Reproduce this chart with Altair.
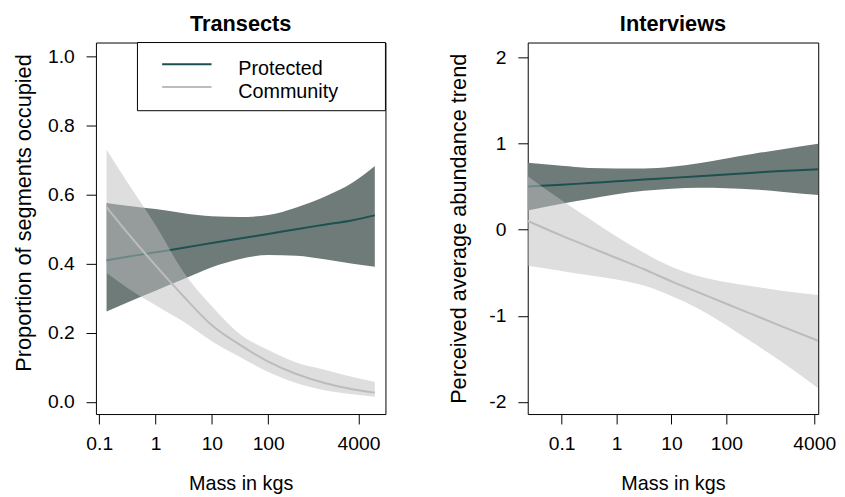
import altair as alt
import pandas as pd

# ---------------- data ----------------
# Transects panel
mass_T = [0.135, 0.316, 1, 3.16, 10, 31.6, 100, 316, 1000, 3160, 7800]
prot_fit_T = [0.41, 0.42, 0.433, 0.446, 0.46, 0.473, 0.486, 0.50, 0.513, 0.526, 0.54]
prot_lo_T = [0.262, 0.288, 0.322, 0.356, 0.39, 0.414, 0.425, 0.423, 0.413, 0.40, 0.391]
prot_hi_T = [0.576, 0.568, 0.558, 0.546, 0.537, 0.535, 0.541, 0.563, 0.594, 0.635, 0.683]
comm_fit_T = [0.564, 0.49, 0.395, 0.305, 0.222, 0.165, 0.117, 0.081, 0.055, 0.037, 0.027]
comm_lo_T = [0.373, 0.33, 0.28, 0.232, 0.176, 0.13, 0.087, 0.055, 0.034, 0.022, 0.015]
comm_hi_T = [0.73, 0.636, 0.512, 0.375, 0.277, 0.196, 0.15, 0.114, 0.093, 0.072, 0.058]

# Interviews panel
mass_I = [0.0242, 0.1, 0.316, 1, 3.16, 10, 31.6, 100, 316, 1000, 4720]
prot_fit_I = [0.50, 0.52, 0.54, 0.56, 0.58, 0.60, 0.62, 0.64, 0.66, 0.68, 0.70]
prot_lo_I = [0.22, 0.30, 0.355, 0.41, 0.45, 0.475, 0.485, 0.48, 0.465, 0.44, 0.40]
prot_hi_I = [0.775, 0.74, 0.715, 0.71, 0.71, 0.73, 0.77, 0.825, 0.88, 0.93, 0.995]
comm_fit_I = [0.10, -0.07, -0.20, -0.33, -0.46, -0.60, -0.73, -0.86, -0.99, -1.12, -1.29]
comm_lo_I = [-0.42, -0.48, -0.53, -0.58, -0.65, -0.77, -0.92, -1.11, -1.32, -1.53, -1.84]
comm_hi_I = [0.62, 0.34, 0.13, -0.08, -0.27, -0.43, -0.54, -0.61, -0.66, -0.71, -0.76]

x_ticks = [0.1, 1, 10, 100, 4000]
y_ticks_T = [0.0, 0.2, 0.4, 0.6, 0.8, 1.0]
y_ticks_I = [-2, -1, 0, 1, 2]

legend_labels = ["Protected", "Community"]

# ---------------- style ----------------
FONT = "Liberation Sans"
PROT_BAND = "#6f7b79"
PROT_LINE = "#1d5151"
COMM_BAND = "#bebebe"
COMM_LINE = "#bcbcbc"
legend_colors = [PROT_LINE, COMM_LINE]

W_T, W_I, H = 293, 294, 376


def frame(mass, fit, lo, hi):
    return pd.DataFrame({"mass": mass, "fit": fit, "lo": lo, "hi": hi})


def make_panel(title, width, mass, pf, pl, ph, cf, cl, ch, xdom, ydom, yticks,
               ylabel_expr, ytitle, ytitle_x, ytitle_y, legend=False):
    xaxis = alt.Axis(values=x_ticks, format="~g", title="Mass in kgs",
                     titleFont=FONT, titleFontSize=20, titleFontWeight="normal",
                     titleColor="black", titleX=width / 2, titleY=76,
                     titleAlign="center", titleBaseline="alphabetic",
                     labelFont=FONT, labelFontSize=19.5, labelColor="black",
                     labelPadding=11, tickSize=10, tickColor="black",
                     domain=False, grid=False, labelFlush=False, labelOverlap=False)
    yaxis = alt.Axis(values=yticks, labelExpr=ylabel_expr, title=ytitle,
                     titleFont=FONT, titleFontSize=22, titleFontWeight="normal",
                     titleColor="black", titleX=ytitle_x, titleY=ytitle_y,
                     titleAngle=270, titleAlign="center", titleBaseline="middle",
                     labelFont=FONT, labelFontSize=19.5, labelColor="black",
                     labelPadding=12, tickSize=10, tickColor="black",
                     domain=False, grid=False, labelFlush=False, labelOverlap=False)
    xs = alt.Scale(type="log", domain=xdom, nice=False)
    ys = alt.Scale(domain=ydom, nice=False, zero=False)

    def X():
        return alt.X("mass:Q", scale=xs, axis=xaxis)

    prot = frame(mass, pf, pl, ph)
    comm = frame(mass, cf, cl, ch)
    one = pd.DataFrame({"k": [0]})

    layers = [
        alt.Chart(prot).mark_area(color=PROT_BAND, opacity=1, interpolate="monotone", clip=True)
        .encode(x=X(), y=alt.Y("lo:Q", scale=ys, axis=yaxis), y2="hi:Q"),
        alt.Chart(prot).mark_line(color=PROT_LINE, strokeWidth=2, interpolate="monotone", clip=True)
        .encode(x=X(), y=alt.Y("fit:Q", scale=ys, axis=yaxis)),
        alt.Chart(comm).mark_area(color=COMM_BAND, opacity=0.5, interpolate="monotone", clip=True)
        .encode(x=X(), y=alt.Y("lo:Q", scale=ys, axis=yaxis), y2="hi:Q"),
        alt.Chart(comm).mark_line(color=COMM_LINE, strokeWidth=2, interpolate="monotone", clip=True)
        .encode(x=X(), y=alt.Y("fit:Q", scale=ys, axis=yaxis)),
        # panel title
        alt.Chart(one).mark_text(align="center", baseline="alphabetic", font=FONT,
                                 fontSize=22, fontWeight="bold", color="black")
        .encode(x=alt.value(width / 2), y=alt.value(-12), text=alt.value(title)),
    ]

    if legend:
        layers.append(
            alt.Chart(one).mark_rect(fill="white", stroke="black", strokeWidth=1)
            .encode(x=alt.value(42), x2=alt.value(width), y=alt.value(0), y2=alt.value(69))
        )
        for i, (lab, col) in enumerate(zip(legend_labels, legend_colors)):
            layers.append(
                alt.Chart(one).mark_rule(color=col, strokeWidth=2)
                .encode(x=alt.value(67), x2=alt.value(117), y=alt.value(22 + 23 * i))
            )
            layers.append(
                alt.Chart(one).mark_text(align="left", baseline="alphabetic", font=FONT,
                                         fontSize=20, color="black")
                .encode(x=alt.value(144), y=alt.value(33 + 23 * i), text=alt.value(lab))
            )

    return alt.layer(*layers).properties(width=width, height=H)


left = make_panel("Transects", W_T, mass_T, prot_fit_T, prot_lo_T, prot_hi_T,
                  comm_fit_T, comm_lo_T, comm_hi_T,
                  [0.0875, 12050], [-0.035, 1.04], y_ticks_T,
                  "format(datum.value, '.1f')", "Proportion of segments occupied",
                  -73, 172, legend=True)

right = make_panel("Interviews", W_I, mass_I, prot_fit_I, prot_lo_I, prot_hi_I,
                   comm_fit_I, comm_lo_I, comm_hi_I,
                   [0.02415, 4721], [-2.14, 2.17], y_ticks_I,
                   "'' + datum.value", "Perceived average abundance trend",
                   -70, 188)

chart = alt.hconcat(left, right, spacing=144, bounds="flush").properties(
    padding={"left": 4, "top": 1, "right": 0, "bottom": 0},
    background="white",
).configure_view(stroke="black", strokeWidth=1)

chart.save("out.html", embed_options={"renderer": "svg", "actions": False})
